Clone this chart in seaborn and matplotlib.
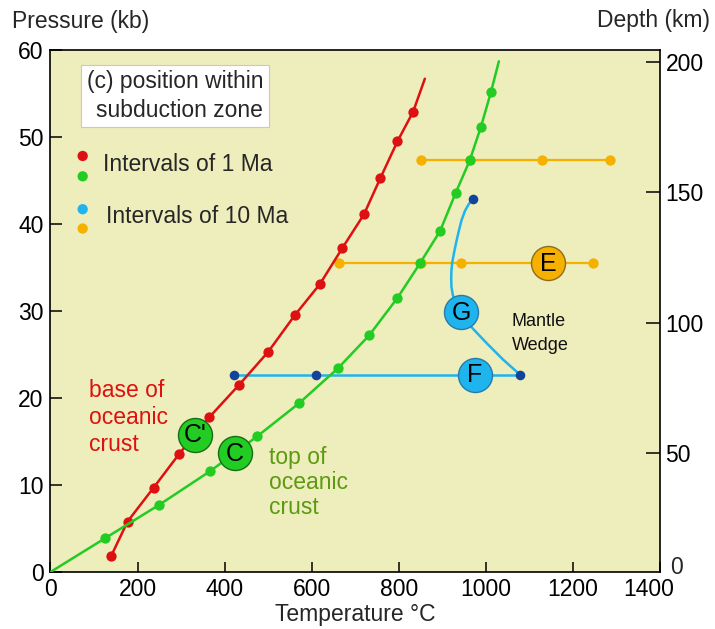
import matplotlib
matplotlib.use("Agg")
import matplotlib.pyplot as plt
import matplotlib.transforms as mtransforms
import seaborn as sns

# ---------------- data ----------------
# base of oceanic crust, 1 Ma intervals
base_T = [139, 177, 237, 296, 365, 433, 500, 561, 619, 670, 720, 758, 797, 833]
base_P = [1.8, 5.8, 9.7, 13.6, 17.8, 21.5, 25.3, 29.5, 33.1, 37.2, 41.1, 45.3, 49.5, 52.9]
base_tail_T = [860]
base_tail_P = [56.7]

# top of oceanic crust, 1 Ma intervals
top_T = [126, 249, 367, 475, 571, 660, 732, 797, 849, 895, 931, 963, 989, 1012]
top_P = [3.9, 7.7, 11.6, 15.6, 19.4, 23.4, 27.2, 31.5, 35.5, 39.2, 43.6, 47.3, 51.2, 55.2]
top_head_T = [0]
top_head_P = [0]
top_tail_T = [1030]
top_tail_P = [58.7]

# 10 Ma intervals (orange): two isobaric rows
orange_hi_T = [851, 963, 1128, 1285]
orange_hi_P = [47.3, 47.3, 47.3, 47.3]
orange_lo_T = [663, 851, 944, 1247]
orange_lo_P = [35.5, 35.5, 35.5, 35.5]

# 10 Ma intervals (blue) and mantle-wedge path
blue_T = [422, 610, 1078]
blue_P = [22.7, 22.7, 22.7]
wedge_T = [1076, 1058, 1040, 1021, 1002, 984, 967, 955, 944, 936, 929, 924, 921, 920.5, 921, 923, 927,
           932, 938, 944, 952, 961, 971]
wedge_P = [22.8, 23.6, 24.4, 25.35, 26.3, 27.25, 28.15, 28.8, 29.5, 30.2, 31.0, 31.9, 32.8, 33.8, 34.7,
           35.6, 36.7, 37.9, 39.2, 40.4, 41.5, 42.3, 42.9]
wedge_top_T = [971]
wedge_top_P = [42.9]

# labelled positions
lab_names = ["C'", "C", "E", "F", "G"]
lab_T = [332, 424, 1143, 975, 943]
lab_P = [15.8, 13.7, 35.5, 22.7, 29.9]

x_ticks = [0, 200, 400, 600, 800, 1000, 1200, 1400]
y_ticks = [0, 10, 20, 30, 40, 50, 60]
depth_ticks = [50, 100, 150, 200]

# ---------------- style ----------------
sns.set_theme(style="ticks")
plt.rcParams["font.family"] = ["Liberation Sans", "DejaVu Sans"]

RED = "#DD1111"
GREEN = "#22CC22"
OLIVE = "#5B9A12"
ORANGE = "#F5B000"
LBLUE = "#1EB4EE"
NAVY = "#11449A"
BG = "#EEEDBC"
FS = 16.5

fig = plt.figure(figsize=(7.15, 6.29), dpi=100)
fig.patch.set_facecolor("white")
ax = fig.add_axes([0.0706, 0.0906, 0.8524, 0.8299])
ax.set_facecolor(BG)

LW = 1.8
DOT = 55

# orange rows
sns.lineplot(x=orange_hi_T, y=orange_hi_P, sort=False, estimator=None, color=ORANGE, lw=1.6, ax=ax, zorder=2)
sns.scatterplot(x=orange_hi_T, y=orange_hi_P, color=ORANGE, s=DOT, linewidth=0, ax=ax, zorder=2)
sns.lineplot(x=orange_lo_T, y=orange_lo_P, sort=False, estimator=None, color=ORANGE, lw=1.6, ax=ax, zorder=2)
sns.scatterplot(x=orange_lo_T, y=orange_lo_P, color=ORANGE, s=DOT, linewidth=0, ax=ax, zorder=2)

# blue row
sns.lineplot(x=blue_T, y=blue_P, sort=False, estimator=None, color=LBLUE, lw=LW, ax=ax, zorder=2)

# curves
sns.lineplot(x=base_T + base_tail_T, y=base_P + base_tail_P, sort=False, estimator=None,
             color=RED, lw=LW, ax=ax, zorder=3)
sns.scatterplot(x=base_T, y=base_P, color=RED, s=DOT, linewidth=0, ax=ax, zorder=3)
sns.lineplot(x=top_head_T + top_T + top_tail_T, y=top_head_P + top_P + top_tail_P, sort=False,
             estimator=None, color=GREEN, lw=LW, ax=ax, zorder=3)
sns.scatterplot(x=top_T, y=top_P, color=GREEN, s=DOT, linewidth=0, ax=ax, zorder=3)

# mantle wedge path
wl = sns.lineplot(x=wedge_T, y=wedge_P, sort=False, estimator=None, color=LBLUE, lw=LW, ax=ax, zorder=3)
ax.lines[-1].set_solid_joinstyle("round")
sns.scatterplot(x=blue_T, y=blue_P, color=NAVY, s=48, linewidth=0, ax=ax, zorder=4)
sns.scatterplot(x=wedge_top_T, y=wedge_top_P, color=NAVY, s=48, linewidth=0, ax=ax, zorder=4)

# labelled big circles
fills = {"C'": GREEN, "C": GREEN, "E": ORANGE, "F": LBLUE, "G": LBLUE}
edges = {"C'": "#1A6A1A", "C": "#1A6A1A", "E": "#8C6D1F", "F": "#2A7AA8", "G": "#2A7AA8"}
for name, t, p in zip(lab_names, lab_T, lab_P):
    sns.scatterplot(x=[t], y=[p], color=fills[name], edgecolor=edges[name], linewidth=1.0,
                    s=600, ax=ax, zorder=5)
    ax.text(t, p - 0.1, name, ha="center", va="center", fontsize=18, color="black", zorder=6)

# axes limits & ticks
ax.set_xlim(0, 1400)
ax.set_ylim(0, 60)
ax.set_xticks(x_ticks)
ax.set_yticks(y_ticks)
ax.tick_params(axis="y", direction="in", length=8.5, width=1.1, pad=5, labelsize=FS, colors="black")
ax.tick_params(axis="x", direction="in", length=7.5, width=1.1, pad=4, labelsize=FS, colors="black")
for sp in ax.spines.values():
    sp.set_visible(True)
    sp.set_color("black")
    sp.set_linewidth(1.2)
ax.set_xlabel("Temperature \u00b0C", fontsize=FS, labelpad=2)
ax.set_ylabel("")

# shift the last x tick label slightly left (as in the reference)
last = ax.get_xticklabels()[-1]
last.set_transform(last.get_transform() + mtransforms.ScaledTranslation(-11 / 100, 0, fig.dpi_scale_trans))

# depth axis
ax2 = ax.twinx()
ax2.set_ylim(4.6, 204.5)
ax2.set_yticks(depth_ticks)
ax2.tick_params(axis="y", direction="in", length=10, width=1.1, pad=4, labelsize=FS, colors="black")
for sp in ax2.spines.values():
    sp.set_visible(False)
ax2.grid(False)
fig.text(670 / 715, 1 - 567 / 629, "0", fontsize=FS, ha="left", va="center")

# axis titles
fig.text(11.7 / 715, 1 - 21.7 / 629, "Pressure (kb)", fontsize=FS, ha="left", va="center")
fig.text(710 / 715, 1 - 20 / 629, "Depth (km)", fontsize=FS, ha="right", va="center")

# title box
ax.text(0.349, 0.912, "(c) position within\nsubduction zone", transform=ax.transAxes,
        ha="right", va="center", multialignment="right", fontsize=FS, zorder=7, linespacing=1.3,
        bbox=dict(boxstyle="square,pad=0.25", facecolor="white", edgecolor="#C8C8C8", linewidth=0.8))

# legend-like markers
ax.scatter([0.0528, 0.0528], [0.797, 0.758], c=[RED, GREEN], s=DOT, linewidths=0,
           transform=ax.transAxes, zorder=7)
ax.scatter([0.0528, 0.0528], [0.695, 0.658], c=[LBLUE, ORANGE], s=DOT, linewidths=0,
           transform=ax.transAxes, zorder=7)
ax.text(0.0857, 0.781, "Intervals of 1 Ma", transform=ax.transAxes, ha="left", va="center", fontsize=FS)
ax.text(0.091, 0.681, "Intervals of 10 Ma", transform=ax.transAxes, ha="left", va="center", fontsize=FS)

# curve annotations
ax.text(89, 17.8, "base of\noceanic\ncrust", color=RED, fontsize=FS, ha="left", va="center",
        linespacing=1.22, zorder=6)
ax.text(502, 10.3, "top of\noceanic\ncrust", color=OLIVE, fontsize=FS, ha="left", va="center",
        linespacing=1.12, zorder=6)
ax.text(1060, 27.4, "Mantle\nWedge", color="#111111", fontsize=13, ha="left", va="center",
        linespacing=1.55, zorder=6)

fig.savefig("out.png", dpi=100, facecolor="white")
